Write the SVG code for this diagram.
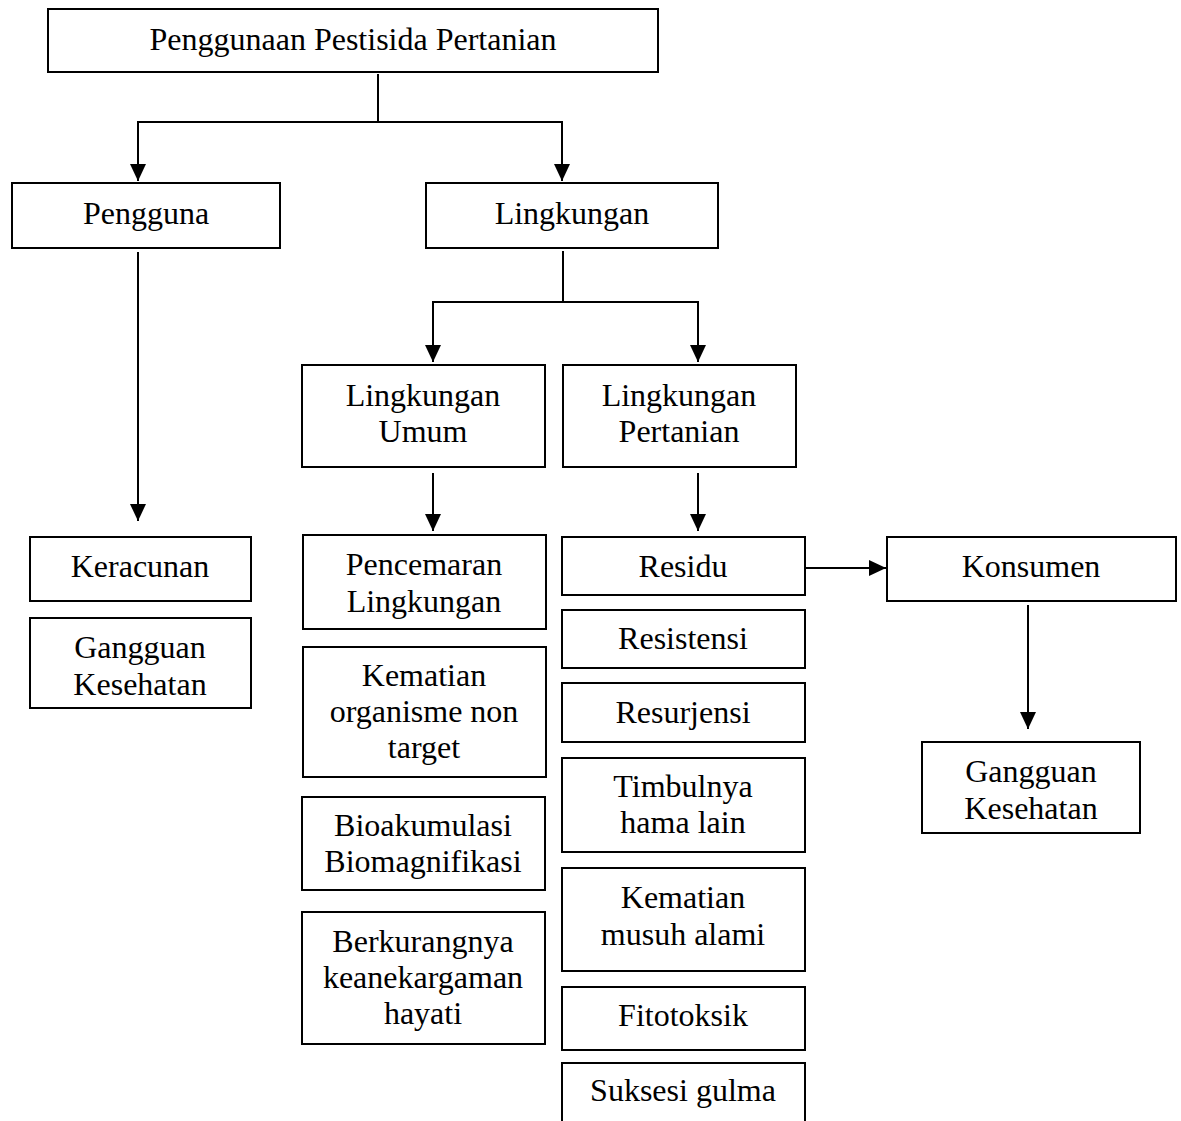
<svg xmlns="http://www.w3.org/2000/svg" width="1181" height="1121" viewBox="0 0 1181 1121">
<style>
rect{fill:#fff;stroke:#000;stroke-width:2}
text{font-family:"Liberation Serif","Times New Roman",serif;font-size:32px;fill:#000;text-anchor:middle}
.c path{fill:none;stroke:#000;stroke-width:2}
</style>
<defs>
<marker id="ah" markerUnits="userSpaceOnUse" markerWidth="17" markerHeight="16" refX="17" refY="8" orient="auto">
<path d="M0,0 L17,8 L0,16 z" fill="#000"/>
</marker>
</defs>
<rect width="1181" height="1121" style="stroke:none"/>
<g class="c" id="connectors">
<path d="M378,74 V122"/>
<path d="M378,122 H138 V181" marker-end="url(#ah)"/>
<path d="M378,122 H562 V181" marker-end="url(#ah)"/>
<path d="M563,251 V302"/>
<path d="M563,302 H433 V362" marker-end="url(#ah)"/>
<path d="M563,302 H698 V362" marker-end="url(#ah)"/>
<path d="M138,252 V521" marker-end="url(#ah)"/>
<path d="M433,473 V531" marker-end="url(#ah)"/>
<path d="M698,473 V531" marker-end="url(#ah)"/>
<path d="M805,568 H886" marker-end="url(#ah)"/>
<path d="M1028,605 V729" marker-end="url(#ah)"/>
</g>
<g id="n-root"><rect x="48" y="9" width="610" height="63"/><text x="353" y="50">Penggunaan Pestisida Pertanian</text></g>
<g id="n-pengguna"><rect x="12" y="183" width="268" height="65"/><text x="146" y="224">Pengguna</text></g>
<g id="n-lingkungan"><rect x="426" y="183" width="292" height="65"/><text x="572" y="224">Lingkungan</text></g>
<g id="n-umum"><rect x="302" y="365" width="243" height="102"/><text x="423" y="406">Lingkungan</text><text x="423" y="442">Umum</text></g>
<g id="n-pertanian"><rect x="563" y="365" width="233" height="102"/><text x="679" y="406">Lingkungan</text><text x="679" y="442">Pertanian</text></g>
<g id="n-keracunan"><rect x="30" y="537" width="221" height="64"/><text x="140" y="577">Keracunan</text></g>
<g id="n-gangguan1"><rect x="30" y="618" width="221" height="90"/><text x="140" y="658">Gangguan</text><text x="140" y="695">Kesehatan</text></g>
<g id="n-pencemaran"><rect x="303" y="535" width="243" height="94"/><text x="424" y="575">Pencemaran</text><text x="424" y="612">Lingkungan</text></g>
<g id="n-kematian1"><rect x="303" y="647" width="243" height="130"/><text x="424" y="686">Kematian</text><text x="424" y="722">organisme non</text><text x="424" y="758">target</text></g>
<g id="n-bioakumulasi"><rect x="302" y="797" width="243" height="93"/><text x="423" y="836">Bioakumulasi</text><text x="423" y="872">Biomagnifikasi</text></g>
<g id="n-berkurangnya"><rect x="302" y="912" width="243" height="132"/><text x="423" y="952">Berkurangnya</text><text x="423" y="988">keanekargaman</text><text x="423" y="1024">hayati</text></g>
<g id="n-residu"><rect x="562" y="537" width="243" height="58"/><text x="683" y="577">Residu</text></g>
<g id="n-resistensi"><rect x="562" y="610" width="243" height="58"/><text x="683" y="649">Resistensi</text></g>
<g id="n-resurjensi"><rect x="562" y="683" width="243" height="59"/><text x="683" y="723">Resurjensi</text></g>
<g id="n-timbulnya"><rect x="562" y="758" width="243" height="94"/><text x="683" y="797">Timbulnya</text><text x="683" y="833">hama lain</text></g>
<g id="n-kematian2"><rect x="562" y="868" width="243" height="103"/><text x="683" y="908">Kematian</text><text x="683" y="945">musuh alami</text></g>
<g id="n-fitotoksik"><rect x="562" y="987" width="243" height="63"/><text x="683" y="1026">Fitotoksik</text></g>
<g id="n-suksesi"><rect x="562" y="1063" width="243" height="70"/><text x="683" y="1101">Suksesi gulma</text></g>
<g id="n-konsumen"><rect x="887" y="537" width="289" height="64"/><text x="1031" y="577">Konsumen</text></g>
<g id="n-gangguan2"><rect x="922" y="742" width="218" height="91"/><text x="1031" y="782">Gangguan</text><text x="1031" y="819">Kesehatan</text></g>
</svg>
